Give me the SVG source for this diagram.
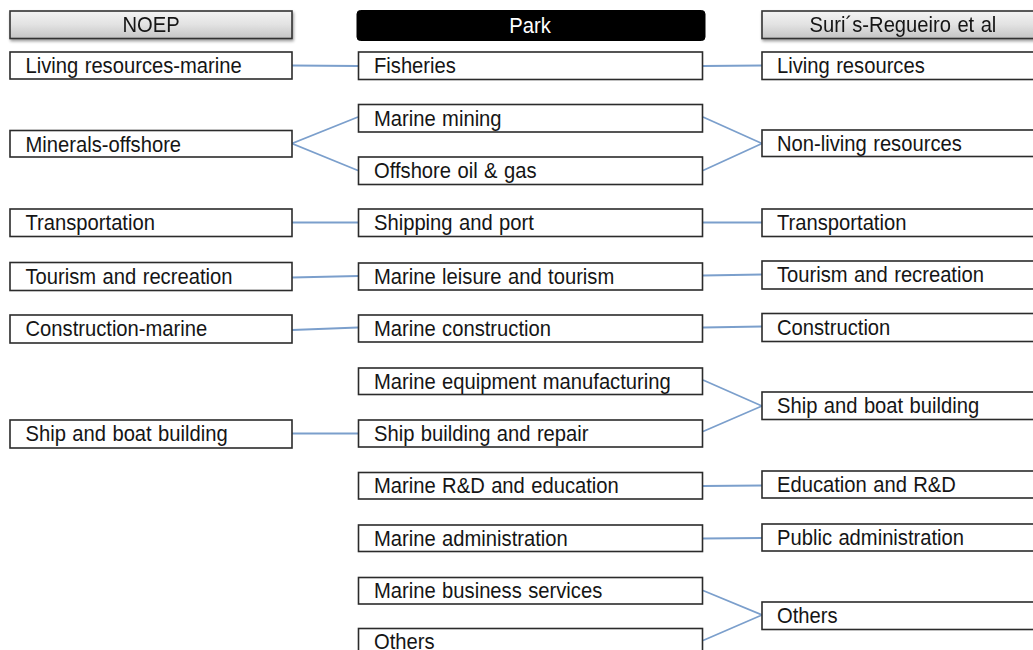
<svg xmlns="http://www.w3.org/2000/svg" width="1033" height="650" viewBox="0 0 1033 650">
<defs>
<linearGradient id="hdr" x1="0" y1="0" x2="0" y2="1">
<stop offset="0" stop-color="#f4f4f4"/>
<stop offset="0.5" stop-color="#e2e2e2"/>
<stop offset="1" stop-color="#c4c4c4"/>
</linearGradient>
<filter id="sh" x="-5%" y="-30%" width="110%" height="170%">
<feGaussianBlur in="SourceAlpha" stdDeviation="1.5"/>
<feOffset dx="1" dy="2" result="b"/>
<feComponentTransfer><feFuncA type="linear" slope="0.4"/></feComponentTransfer>
<feMerge><feMergeNode/><feMergeNode in="SourceGraphic"/></feMerge>
</filter>
</defs>
<style>
.box{fill:#fff;stroke:#2b2b2b;stroke-width:1.6}
.hbox{fill:url(#hdr);stroke:#333;stroke-width:1.6}
.pbox{fill:#000;stroke:#000;stroke-width:1}
text{font-family:"Liberation Sans",Arial,sans-serif;font-size:20.2px;word-spacing:0.8px;fill:#151515;transform-box:fill-box;transform-origin:center bottom;transform:translateY(0.8px) scaleY(1.07)}
.ht{text-anchor:middle}
.pt{fill:#fff;text-anchor:middle}
.c{stroke:#7b9fcc;stroke-width:1.8;fill:none}
</style>
<rect width="1033" height="650" fill="#fff"/>

<g id="connectors">
<path class="c" d="M292,65.5 L358,66"/>
<path class="c" d="M358,117 L292,143.5 L358,170.5"/>
<path class="c" d="M703,66 L762,65.5"/>
<path class="c" d="M703,117 L762,143.5 L703,170.5"/>
<path class="c" d="M292,222.5 L358,222.5"/>
<path class="c" d="M703,222.5 L762,222.5"/>
<path class="c" d="M292,277.5 L358,276"/>
<path class="c" d="M703,275.5 L762,274.5"/>
<path class="c" d="M292,330 L358,327.5"/>
<path class="c" d="M703,327.5 L762,326.5"/>
<path class="c" d="M292,433.5 L358,433.5"/>
<path class="c" d="M703,380 L762,406 L703,431.5"/>
<path class="c" d="M703,486 L762,485.5"/>
<path class="c" d="M703,538.5 L762,538"/>
<path class="c" d="M703,590.5 L762,615 L703,640.5"/>
</g>

<g id="h-noep" filter="url(#sh)"><rect class="hbox" x="10" y="11" width="282" height="27.5"/><text class="ht" x="151" y="31.5">NOEP</text></g>
<g id="h-park"><rect class="pbox" x="357" y="10.5" width="348" height="30" rx="3.5"/><text class="pt" x="530" y="32.5">Park</text></g>
<g id="h-suris" filter="url(#sh)"><rect class="hbox" x="762" y="11" width="282" height="27.5"/><text class="ht" x="903" y="31.5">Suri´s-Regueiro et al</text></g>

<g id="l1"><rect class="box" x="10" y="52" width="282" height="27"/><text x="25.5" y="72.5">Living resources-marine</text></g>
<g id="l2"><rect class="box" x="10" y="130.5" width="282" height="26.5"/><text x="25.5" y="151">Minerals-offshore</text></g>
<g id="l3"><rect class="box" x="10" y="209" width="282" height="27.5"/><text x="25.5" y="229.5">Transportation</text></g>
<g id="l4"><rect class="box" x="10" y="262.5" width="282" height="28"/><text x="25.5" y="283">Tourism and recreation</text></g>
<g id="l5"><rect class="box" x="10" y="315" width="282" height="28"/><text x="25.5" y="335.5">Construction-marine</text></g>
<g id="l6"><rect class="box" x="10" y="420" width="282" height="28"/><text x="25.5" y="440.5">Ship and boat building</text></g>

<g id="m1"><rect class="box" x="358.5" y="52" width="344" height="27.5"/><text x="374" y="72.5">Fisheries</text></g>
<g id="m2"><rect class="box" x="358.5" y="104.5" width="344" height="27.5"/><text x="374" y="125">Marine mining</text></g>
<g id="m3"><rect class="box" x="358.5" y="157" width="344" height="27.5"/><text x="374" y="177.5">Offshore oil &amp; gas</text></g>
<g id="m4"><rect class="box" x="358.5" y="209" width="344" height="27.5"/><text x="374" y="229.5">Shipping and port</text></g>
<g id="m5"><rect class="box" x="358.5" y="263" width="344" height="27"/><text x="374" y="283.5">Marine leisure and tourism</text></g>
<g id="m6"><rect class="box" x="358.5" y="315" width="344" height="27"/><text x="374" y="335.5">Marine construction</text></g>
<g id="m7"><rect class="box" x="358.5" y="368" width="344" height="26.5"/><text x="374" y="388">Marine equipment manufacturing</text></g>
<g id="m8"><rect class="box" x="358.5" y="420" width="344" height="27"/><text x="374" y="440.5">Ship building and repair</text></g>
<g id="m9"><rect class="box" x="358.5" y="472.5" width="344" height="26.5"/><text x="374" y="492.5">Marine R&amp;D and education</text></g>
<g id="m10"><rect class="box" x="358.5" y="525" width="344" height="26.5"/><text x="374" y="545">Marine administration</text></g>
<g id="m11"><rect class="box" x="358.5" y="577.5" width="344" height="26.5"/><text x="374" y="597.5">Marine business services</text></g>
<g id="m12"><rect class="box" x="358.5" y="628.5" width="344" height="27"/><text x="374" y="648.5">Others</text></g>

<g id="r1"><rect class="box" x="762" y="52" width="282" height="27.5"/><text x="777" y="72.5">Living resources</text></g>
<g id="r2"><rect class="box" x="762" y="130" width="282" height="26.5"/><text x="777" y="150.5">Non-living resources</text></g>
<g id="r3"><rect class="box" x="762" y="209" width="282" height="27.5"/><text x="777" y="229.5">Transportation</text></g>
<g id="r4"><rect class="box" x="762" y="261" width="282" height="28"/><text x="777" y="281.5">Tourism and recreation</text></g>
<g id="r5"><rect class="box" x="762" y="313.5" width="282" height="28"/><text x="777" y="334">Construction</text></g>
<g id="r6"><rect class="box" x="762" y="392" width="282" height="27.5"/><text x="777" y="412.5">Ship and boat building</text></g>
<g id="r7"><rect class="box" x="762" y="471" width="282" height="27"/><text x="777" y="491.5">Education and R&amp;D</text></g>
<g id="r8"><rect class="box" x="762" y="524" width="282" height="27"/><text x="777" y="544.5">Public administration</text></g>
<g id="r9"><rect class="box" x="762" y="602" width="282" height="27.5"/><text x="777" y="622.5">Others</text></g>
</svg>
